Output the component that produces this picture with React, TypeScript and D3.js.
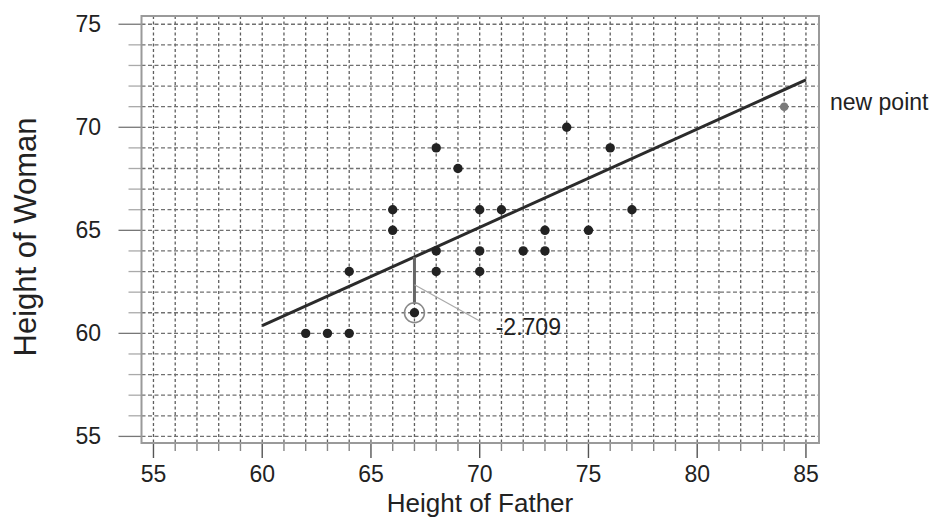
import React, { useEffect, useRef } from 'react';
import * as d3 from 'd3';

// heights (father, woman)
const fatherHeights = [62, 63, 64, 64, 66, 66, 67, 68, 68, 68, 69, 70, 70, 70, 71, 72, 73, 73, 74, 75, 76, 77];
const womanHeights = [60, 60, 60, 63, 66, 65, 61, 69, 64, 63, 68, 66, 64, 63, 66, 64, 65, 64, 70, 65, 69, 66];
const highlightIndex = 6;
const residualText = '-2.709';

const newPointFather = [84];
const newPointWoman = [71];
const newPointLabel = 'new point';

// fitted line end points
const fitLineX = [60, 85];
const fitLineY = [60.37, 72.3];

const xTicks = [55, 60, 65, 70, 75, 80, 85];
const yTicks = [55, 60, 65, 70, 75];

const App = () => {
  const ref = useRef<SVGSVGElement>(null);

  useEffect(() => {
    const svg = d3.select(ref.current);
    svg.selectAll('*').remove();

    const left = 141.5, right = 819, top = 16, bottom = 443;
    const font = '"Liberation Sans", Arial, sans-serif';

    const x = d3.scaleLinear().domain([54.45, 85.6]).range([left, right]);
    const y = d3.scaleLinear().domain([54.68, 75.4]).range([bottom, top]);
    const fit = d3.scaleLinear().domain(fitLineX).range(fitLineY);

    const grid = svg.append('g');
    const xMinor = d3.range(55, 86);
    const yMinor = d3.range(55, 76);

    // ticks outside the frame
    grid.selectAll('.xtick')
      .data(xMinor)
      .enter()
      .append('line')
      .attr('x1', d => x(d)).attr('x2', d => x(d))
      .attr('y1', bottom)
      .attr('y2', d => bottom + (d % 5 === 0 ? 15 : 8))
      .attr('stroke', d => d % 5 === 0 ? '#555' : '#888')
      .attr('stroke-width', 1.4);

    grid.selectAll('.ytick')
      .data(yMinor)
      .enter()
      .append('line')
      .attr('y1', d => y(d)).attr('y2', d => y(d))
      .attr('x1', left)
      .attr('x2', d => left - (d % 5 === 0 ? 23 : 13))
      .attr('stroke', d => d % 5 === 0 ? '#777' : '#aaa')
      .attr('stroke-width', 1.3);

    // dashed grid
    grid.selectAll('.vgrid')
      .data(xMinor)
      .enter()
      .append('line')
      .attr('x1', d => x(d)).attr('x2', d => x(d))
      .attr('y1', top).attr('y2', bottom)
      .attr('stroke', '#5e5e5e')
      .attr('stroke-width', 1.3)
      .attr('stroke-dasharray', '3,2.5');

    grid.selectAll('.hgrid')
      .data(yMinor)
      .enter()
      .append('line')
      .attr('y1', d => y(d)).attr('y2', d => y(d))
      .attr('x1', left).attr('x2', right)
      .attr('stroke', '#707070')
      .attr('stroke-width', 1.3)
      .attr('stroke-dasharray', '4,2.5');

    svg.append('rect')
      .attr('x', left).attr('y', top)
      .attr('width', right - left).attr('height', bottom - top)
      .attr('fill', 'none')
      .attr('stroke', '#9a9a9a')
      .attr('stroke-width', 2);

    // tick labels
    svg.selectAll('.xlab')
      .data(xTicks)
      .enter()
      .append('text')
      .attr('x', d => x(d))
      .attr('y', 482)
      .attr('text-anchor', 'middle')
      .attr('font-family', font)
      .attr('font-size', 23)
      .attr('fill', '#222')
      .text(d => d);

    svg.selectAll('.ylab')
      .data(yTicks)
      .enter()
      .append('text')
      .attr('x', 101)
      .attr('y', d => y(d) + 8)
      .attr('text-anchor', 'end')
      .attr('font-family', font)
      .attr('font-size', 23)
      .attr('fill', '#222')
      .text(d => d);

    // axis titles
    svg.append('text')
      .attr('x', 480).attr('y', 512)
      .attr('text-anchor', 'middle')
      .attr('font-family', font)
      .attr('font-size', 26)
      .attr('fill', '#222')
      .text('Height of Father');

    svg.append('text')
      .attr('transform', 'translate(36,237) rotate(-90)')
      .attr('text-anchor', 'middle')
      .attr('font-family', font)
      .attr('font-size', 31)
      .attr('fill', '#222')
      .text('Height of Woman');

    // fitted line
    svg.append('line')
      .attr('x1', x(fitLineX[0])).attr('y1', y(fitLineY[0]))
      .attr('x2', x(fitLineX[1])).attr('y2', y(fitLineY[1]))
      .attr('stroke', '#2b2b2b')
      .attr('stroke-width', 3);

    // residual of the highlighted point
    const hx = fatherHeights[highlightIndex];
    const hy = womanHeights[highlightIndex];
    svg.append('line')
      .attr('x1', x(hx)).attr('x2', x(hx))
      .attr('y1', y(fit(hx))).attr('y2', y(hy) - 9)
      .attr('stroke', '#666')
      .attr('stroke-width', 3);

    svg.append('line')
      .attr('x1', x(hx)).attr('y1', y((fit(hx) + hy) / 2))
      .attr('x2', x(70)).attr('y2', y(60.6))
      .attr('stroke', '#aaa')
      .attr('stroke-width', 1.2);

    svg.append('circle')
      .attr('cx', x(hx)).attr('cy', y(hy))
      .attr('r', 10)
      .attr('fill', 'none')
      .attr('stroke', '#8a8a8a')
      .attr('stroke-width', 1.5);

    svg.append('text')
      .attr('x', x(70) + 16).attr('y', y(60) + 2)
      .attr('font-family', font)
      .attr('font-size', 23)
      .attr('fill', '#222')
      .text(residualText);

    // data points
    svg.append('g')
      .selectAll('circle')
      .data(fatherHeights.map((f, i) => ({ f, w: womanHeights[i] })))
      .enter()
      .append('circle')
      .attr('cx', d => x(d.f))
      .attr('cy', d => y(d.w))
      .attr('r', 4.7)
      .attr('fill', '#222');

    svg.append('g')
      .selectAll('circle')
      .data(newPointFather.map((f, i) => ({ f, w: newPointWoman[i] })))
      .enter()
      .append('circle')
      .attr('cx', d => x(d.f))
      .attr('cy', d => y(d.w))
      .attr('r', 4.3)
      .attr('fill', '#7a7a7a');

    svg.append('text')
      .attr('x', 830).attr('y', y(newPointWoman[0]) + 3)
      .attr('font-family', font)
      .attr('font-size', 23)
      .attr('fill', '#222')
      .text(newPointLabel);
  }, []);

  return (
    <div style={{ position: 'absolute', left: 0, top: 0 }}>
      <svg ref={ref} width={936} height={518} style={{ display: 'block', background: '#fff' }}></svg>
    </div>
  );
};

export default App;
